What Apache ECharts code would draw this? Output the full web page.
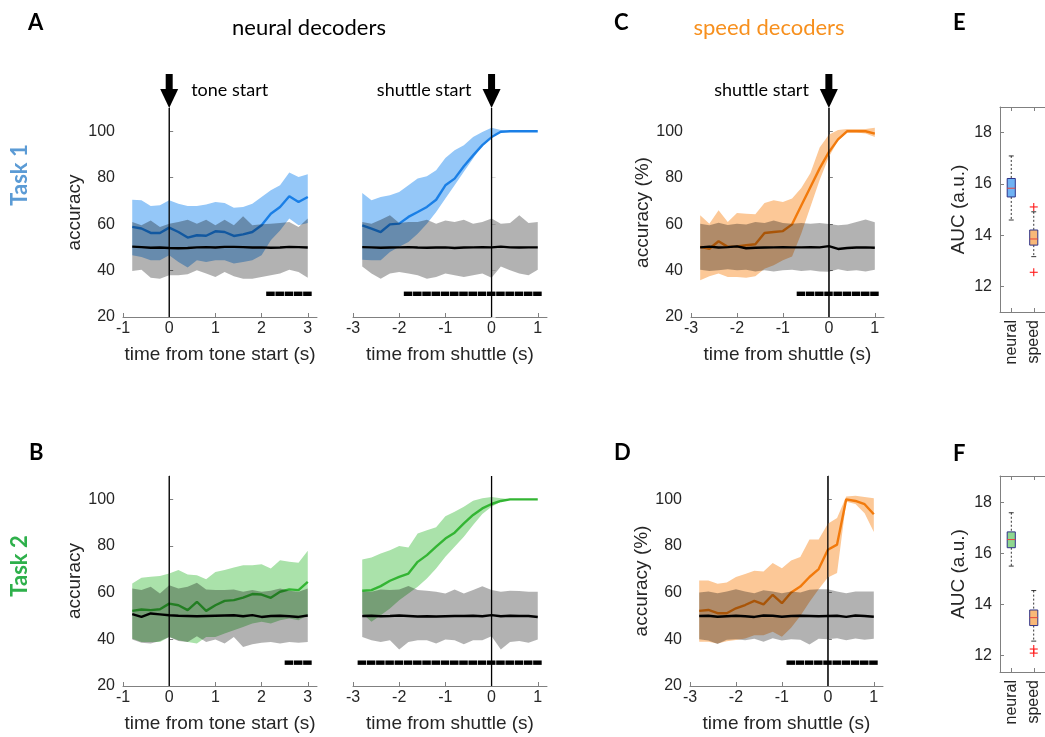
<!DOCTYPE html>
<html>
<head>
<meta charset="utf-8">
<script src="https://cdn.jsdelivr.net/npm/echarts@6/dist/echarts.min.js"></script>
<style>
  html, body { margin: 0; padding: 0; background: #ffffff; }
  #chart { width: 1045px; height: 737px; }
</style>
</head>
<body>
<div id="chart"></div>
<script>
// ---------- time bins (s) ----------
const X_TONE = [-0.8, -0.6, -0.4, -0.2, 0, 0.2, 0.4, 0.6, 0.8, 1.0, 1.2, 1.4, 1.6, 1.8, 2.0, 2.2, 2.4, 2.6, 2.8, 3.0];
const X_SHUTTLE = [-2.8, -2.6, -2.4, -2.2, -2.0, -1.8, -1.6, -1.4, -1.2, -1.0, -0.8, -0.6, -0.4, -0.2, 0, 0.2, 0.4, 0.6, 0.8, 1.0];

// ---------- Task 1, neural decoder, aligned to tone start ----------
const a1Mean = [58.8, 58.1, 56.2, 56.2, 58.5, 56.6, 54.2, 55.2, 55.0, 56.9, 56.6, 54.9, 55.6, 56.6, 59.5, 64.5, 67.4, 72.0, 69.5, 71.7];
const a1Hi   = [70.5, 70.3, 67.8, 68.1, 70.3, 68.8, 67.8, 67.8, 68.4, 69.5, 69.1, 67.0, 67.4, 68.8, 71.7, 74.6, 76.7, 82.2, 80.3, 81.5];
const a1Lo   = [46.6, 45.8, 44.4, 44.4, 46.6, 43.7, 41.3, 44.4, 43.7, 44.4, 44.4, 43.0, 43.7, 44.4, 46.6, 53.0, 57.3, 62.4, 59.5, 60.5];
const a1ChMean = [50.3, 50.1, 49.8, 49.9, 49.7, 49.6, 49.7, 50.0, 50.1, 49.9, 50.2, 50.2, 50.1, 49.9, 50.0, 49.8, 49.9, 50.2, 50.1, 49.9];
const a1ChHi   = [60.9, 59.5, 61.6, 58.8, 60.2, 60.9, 61.9, 60.2, 61.9, 59.5, 61.9, 59.5, 63.4, 59.5, 59.9, 60.2, 60.5, 60.9, 58.8, 62.4];
const a1ChLo   = [39.8, 40.4, 36.9, 36.5, 38.0, 38.0, 38.4, 40.1, 38.7, 37.2, 39.4, 37.5, 36.5, 36.5, 37.2, 38.0, 38.7, 40.4, 39.4, 36.9];
const a1Sig = [2.2, 2.4, 2.6, 2.8, 3.0];

// ---------- Task 1, neural decoder, aligned to shuttle ----------
const a2Mean = [59.5, 58.1, 56.6, 59.9, 60.2, 63.1, 65.2, 67.4, 70.5, 76.7, 79.6, 84.9, 89.6, 94.0, 97.5, 99.8, 100, 100, 100, 100];
const a2Hi   = [73.4, 70.3, 71.7, 72.4, 73.8, 76.7, 79.6, 80.6, 83.2, 88.5, 91.8, 94.0, 97.5, 99.7, 101.5, 100.5, 100, 100, 100, 100];
const a2Lo   = [44.7, 44.4, 44.4, 48.0, 50.2, 52.3, 55.9, 60.2, 65.2, 71.0, 76.7, 82.5, 88.2, 94.0, 98.3, 99.6, 100, 100, 100, 100];
const a2ChMean = [50.1, 50.0, 49.8, 49.9, 50.0, 50.1, 49.9, 49.8, 49.9, 50.0, 49.7, 49.9, 50.0, 50.1, 50.0, 50.3, 50.0, 49.9, 50.0, 50.0];
const a2ChHi   = [60.9, 60.2, 61.9, 63.8, 60.5, 60.9, 60.9, 61.9, 60.2, 61.6, 60.9, 61.9, 60.2, 60.9, 62.4, 60.2, 60.5, 63.8, 60.5, 60.9];
const a2ChLo   = [41.8, 38.7, 36.5, 38.7, 39.4, 38.7, 38.0, 36.5, 37.2, 38.7, 38.0, 37.2, 38.0, 38.7, 36.9, 41.8, 40.1, 38.7, 38.0, 40.4];
const a2Sig = [-1.8, -1.6, -1.4, -1.2, -1.0, -0.8, -0.6, -0.4, -0.2, 0, 0.2, 0.4, 0.6, 0.8, 1.0];

// ---------- Task 1, speed decoder, aligned to shuttle ----------
const cMean = [50.2, 49.4, 52.6, 50.2, 50.4, 50.9, 51.3, 56.2, 56.6, 57.0, 59.9, 68.0, 76.0, 84.0, 91.0, 96.5, 100, 100, 100, 99.0];
const cHi   = [63.8, 60.2, 66.0, 60.9, 64.8, 64.5, 64.2, 69.1, 70.3, 69.5, 71.0, 75.5, 82.0, 93.0, 98.5, 100.5, 101, 101, 101, 101.5];
const cLo   = [35.8, 37.5, 38.7, 37.2, 37.2, 36.9, 37.5, 40.8, 42.3, 44.4, 46.0, 56.0, 67.5, 79.0, 88.9, 96.0, 99.5, 99.5, 99.0, 97.5];
const cChMean = [50.0, 50.3, 49.9, 50.1, 50.4, 49.6, 49.8, 49.9, 50.0, 50.1, 50.0, 50.0, 50.1, 50.0, 50.5, 49.3, 49.7, 49.9, 50.0, 49.8];
const cChHi   = [60.2, 59.5, 60.6, 59.6, 60.2, 59.8, 60.9, 60.5, 61.6, 60.5, 60.2, 60.5, 60.2, 60.5, 60.0, 59.5, 59.8, 60.9, 62.0, 60.8];
const cChLo   = [40.4, 39.8, 40.1, 40.6, 40.1, 40.4, 39.6, 40.1, 39.6, 40.1, 40.4, 39.8, 40.1, 39.6, 39.5, 40.6, 39.8, 40.1, 39.6, 40.3];
const cSig = [-0.6, -0.4, -0.2, 0, 0.2, 0.4, 0.6, 0.8, 1.0];

// ---------- Task 2, neural decoder, aligned to tone start ----------
const b1Mean = [52.2, 52.8, 52.5, 52.9, 55.3, 54.6, 52.5, 56.1, 52.2, 54.6, 56.5, 56.8, 57.9, 59.4, 59.2, 57.8, 60.4, 61.4, 61.1, 64.6];
const b1Hi   = [63.9, 66.4, 66.8, 67.1, 68.2, 69.7, 67.8, 67.5, 65.8, 68.9, 69.7, 70.8, 71.8, 71.8, 72.2, 70.4, 73.9, 73.2, 72.8, 78.0];
const b1Lo   = [40.3, 38.9, 38.9, 38.9, 41.0, 39.6, 38.9, 38.2, 41.0, 41.0, 42.5, 43.9, 45.3, 46.8, 47.5, 46.8, 48.2, 48.9, 48.2, 50.3];
const b1ChMean = [50.8, 49.6, 51.1, 50.7, 50.3, 50.1, 50.0, 49.9, 50.0, 50.1, 50.2, 50.3, 49.9, 50.4, 49.6, 50.0, 50.1, 49.9, 49.6, 50.2];
const b1ChHi   = [61.8, 61.1, 62.5, 59.6, 63.2, 61.8, 62.5, 64.2, 61.4, 61.1, 61.1, 61.4, 60.4, 61.1, 60.4, 60.8, 61.8, 60.8, 60.4, 61.8];
const b1ChLo   = [39.9, 38.5, 38.2, 39.3, 41.0, 39.3, 38.9, 41.3, 38.9, 39.9, 38.2, 41.0, 36.7, 37.9, 38.5, 38.9, 38.2, 38.9, 38.5, 38.9];
const b1Sig = [2.6, 2.8, 3.0];

// ---------- Task 2, neural decoder, aligned to shuttle ----------
const b2Mean = [60.8, 61.1, 62.8, 65.1, 66.8, 68.2, 73.2, 76.1, 79.7, 83.2, 85.7, 89.7, 93.3, 96.1, 98.0, 99.3, 100, 100, 100, 100];
const b2Hi   = [74.2, 75.1, 76.8, 78.2, 80.0, 79.4, 85.4, 86.8, 88.0, 92.8, 94.7, 96.8, 99.4, 100.5, 101, 100.5, 100, 100, 100, 100];
const b2Lo   = [51.1, 47.5, 50.3, 53.2, 56.8, 59.6, 62.5, 66.1, 70.4, 75.4, 79.7, 84.0, 89.0, 93.7, 96.8, 99.0, 100, 100, 100, 100];
const b2ChMean = [50.0, 50.1, 49.9, 50.0, 50.2, 50.0, 49.8, 49.9, 49.8, 49.9, 50.0, 50.0, 50.1, 49.9, 50.4, 49.9, 50.1, 50.0, 50.0, 49.6];
const b2ChHi   = [60.4, 60.4, 61.4, 61.1, 61.4, 62.9, 61.1, 60.8, 60.4, 59.6, 61.4, 59.6, 61.1, 62.8, 61.1, 60.4, 60.8, 60.7, 60.4, 60.4];
const b2ChLo   = [41.0, 39.6, 38.9, 39.6, 35.6, 38.9, 39.6, 39.6, 38.2, 39.9, 39.6, 37.9, 39.6, 39.6, 41.3, 35.6, 38.9, 39.3, 38.5, 39.9];
const b2Sig = [-2.8, -2.6, -2.4, -2.2, -2.0, -1.8, -1.6, -1.4, -1.2, -1.0, -0.8, -0.6, -0.4, -0.2, 0, 0.2, 0.4, 0.6, 0.8, 1.0];

// ---------- Task 2, speed decoder, aligned to shuttle ----------
const dMean = [52.2, 52.6, 51.2, 51.2, 53.3, 54.7, 56.5, 55.0, 59.1, 55.5, 60.1, 62.6, 66.7, 70.1, 78.4, 80.6, 100, 99.3, 97.9, 93.6];
const dHi   = [65.2, 65.2, 63.8, 64.4, 66.7, 68.0, 69.4, 69.1, 72.7, 70.5, 73.8, 75.3, 82.8, 82.8, 89.5, 92.0, 101.2, 101.5, 101.0, 100.5];
const dLo   = [39.0, 39.0, 38.2, 39.2, 39.7, 40.4, 41.8, 41.8, 43.3, 41.1, 45.0, 50.0, 56.0, 61.5, 66.5, 68.4, 99.0, 98.0, 94.0, 86.0];
const dChMean = [50.0, 50.1, 49.7, 49.9, 50.1, 49.9, 49.6, 50.2, 50.1, 49.7, 50.0, 50.1, 50.0, 49.9, 50.0, 50.1, 49.6, 50.2, 50.0, 49.7];
const dChHi   = [60.1, 60.5, 59.8, 60.5, 61.5, 60.5, 59.8, 61.0, 60.5, 59.8, 60.5, 60.1, 61.2, 61.5, 61.5, 60.5, 59.8, 60.5, 60.5, 60.5];
const dChLo   = [40.0, 39.5, 38.0, 39.8, 40.0, 39.6, 40.3, 39.0, 40.5, 39.5, 40.0, 39.8, 37.8, 40.3, 40.0, 40.5, 39.6, 40.4, 39.8, 40.3];
const dSig = [-0.8, -0.6, -0.4, -0.2, 0, 0.2, 0.4, 0.6, 0.8, 1.0];

// ---------- AUC box plots: [min, Q1, median, Q3, max] ----------
const BOX_LABELS = ['neural', 'speed'];
const eBox = [[14.59, 15.49, 15.83, 16.21, 17.09], [13.16, 13.61, 13.85, 14.20, 14.91]];
const eOutliers = [[2, 15.10], [2, 12.55]];
const fBox = [[15.51, 16.23, 16.55, 16.85, 17.60], [12.57, 13.18, 13.49, 13.79, 14.55]];
const fOutliers = [[2, 12.26], [2, 12.10]];

// ---------- tick labels ----------
const Y_TICKS = [20, 40, 60, 80, 100];
const X_TICKS_TONE = [-1, 0, 1, 2, 3];
const X_TICKS_SHUTTLE = [-3, -2, -1, 0, 1];
const AUC_TICKS = [12, 14, 16, 18];

// ---------- styles ----------
const AX = '#808080';
const TXT = '#262626';
const F_AX = "'Liberation Sans', Arial, Helvetica, sans-serif";
const F_TXT = "Lato, 'Open Sans', sans-serif";
const BLUE = { line: '#1a7fe6', band: '#94c7f8', box: '#6fb2f3' };
const ORANGE = { line: '#f27a0c', band: '#fcc897', box: '#f9b878' };
const GREEN = { line: '#33b533', band: '#aae2aa', box: '#8fd78f' };
const SHADE = 'rgba(0,0,0,0.30)';

const chart = echarts.init(document.getElementById('chart'), null, { renderer: 'canvas' });

const grids = [
  { left: 123, top: 108, width: 194, height: 209 },  // A, tone
  { left: 353, top: 108, width: 194, height: 209 },  // A, shuttle
  { left: 691, top: 108, width: 193, height: 209 },  // C
  { left: 1000, top: 107, width: 48, height: 205 },  // E
  { left: 123, top: 476, width: 194, height: 210 },  // B, tone
  { left: 353, top: 476, width: 194, height: 210 },  // B, shuttle
  { left: 690, top: 476, width: 193, height: 210 },  // D
  { left: 1000, top: 476, width: 48, height: 196 }   // F
];

function timeX(g, min, max, ticks, name) {
  return {
    gridIndex: g, type: 'value', min: min, max: max,
    name: name, nameLocation: 'middle', nameGap: 28,
    nameTextStyle: { color: TXT, fontSize: 19, fontFamily: F_AX },
    axisLine: { show: true, lineStyle: { color: AX, width: 1 } },
    axisTick: { show: true, inside: true, length: 4, customValues: ticks, lineStyle: { color: AX } },
    axisLabel: { show: true, customValues: ticks, color: TXT, fontSize: 16, fontFamily: F_AX, margin: 4 },
    splitLine: { show: false }
  };
}

function accY(g, name, visible, faintTicks) {
  return {
    gridIndex: g, type: 'value', min: 20, max: 110,
    name: visible ? name : '', nameLocation: 'middle', nameGap: 39,
    nameTextStyle: { color: TXT, fontSize: 19, fontFamily: F_AX },
    axisLine: { show: visible, lineStyle: { color: AX, width: 1 } },
    axisTick: { show: visible || faintTicks, inside: true, length: 4, customValues: Y_TICKS,
                lineStyle: { color: visible ? AX : '#d9d9d9' } },
    axisLabel: { show: visible, customValues: Y_TICKS, color: TXT, fontSize: 16, fontFamily: F_AX, margin: 8 },
    splitLine: { show: false }
  };
}

function aucY(g, min, max) {
  return {
    gridIndex: g, type: 'value', min: min, max: max,
    name: 'AUC (a.u.)', nameLocation: 'middle', nameGap: 32,
    nameTextStyle: { color: TXT, fontSize: 19, fontFamily: F_AX },
    axisLine: { show: true, lineStyle: { color: AX, width: 1 } },
    axisTick: { show: true, inside: true, length: 4, customValues: AUC_TICKS, lineStyle: { color: AX } },
    axisLabel: { show: true, customValues: AUC_TICKS, color: TXT, fontSize: 16, fontFamily: F_AX, margin: 8 },
    splitLine: { show: false }
  };
}

function boxX(g, top) {
  return {
    gridIndex: g, type: 'value', min: 0.5, max: 2.5, position: top ? 'top' : 'bottom',
    axisLine: { show: true, onZero: false, lineStyle: { color: AX, width: 1 } },
    axisTick: { show: true, inside: true, length: 4, customValues: [1, 2], lineStyle: { color: AX } },
    axisLabel: {
      show: !top, customValues: [1, 2], rotate: 90, color: TXT, fontSize: 16, fontFamily: F_AX, margin: 8,
      formatter: function (v) { return BOX_LABELS[Math.round(v) - 1] || ''; }
    },
    splitLine: { show: false }
  };
}

// Filled band between lower and upper bounds, drawn through the axis scale
function band(g, xs, lo, hi, fill, z) {
  return {
    type: 'custom', xAxisIndex: g, yAxisIndex: g, z: z, silent: true, clip: true,
    data: [[xs[0], lo[0]]],
    renderItem: function (params, api) {
      const up = xs.map(function (x, i) { return api.coord([x, hi[i]]); });
      const dn = xs.map(function (x, i) { return api.coord([x, lo[i]]); }).reverse();
      return { type: 'polygon', shape: { points: up.concat(dn) }, style: { fill: fill } };
    }
  };
}

function meanLine(g, xs, ys, color, z) {
  return {
    type: 'line', xAxisIndex: g, yAxisIndex: g, z: z, silent: true,
    data: xs.map(function (x, i) { return [x, ys[i]]; }),
    symbol: 'none', lineStyle: { color: color, width: 2.4 }
  };
}

// Significance marker: one short segment per significant bin, at 30 % accuracy
function sigBar(g, bins) {
  return {
    type: 'custom', xAxisIndex: g, yAxisIndex: g, z: 6, silent: true,
    data: bins.map(function (b) { return [b, 30]; }),
    renderItem: function (params, api) {
      const b = api.value(0);
      const a = api.coord([b - 0.1, api.value(1)]);
      const c = api.coord([b + 0.1, api.value(1)]);
      return { type: 'rect', shape: { x: a[0], y: a[1] - 2.2, width: c[0] - a[0] - 0.7, height: 4.4 }, style: { fill: '#000' } };
    }
  };
}

function zeroLine(g) {
  return {
    type: 'line', xAxisIndex: g, yAxisIndex: g, z: 7, silent: true,
    data: [[0, 20], [0, 110]], symbol: 'none', lineStyle: { color: '#000', width: 1.3 }
  };
}

// Event arrow above the plot, pointing at t = 0, with its caption
function eventArrow(g, caption, side) {
  return {
    type: 'custom', xAxisIndex: g, yAxisIndex: g, z: 8, silent: true, clip: false,
    data: [[0, 110]],
    renderItem: function (params, api) {
      const p = api.coord([api.value(0), api.value(1)]);
      return {
        type: 'group', children: [
          { type: 'polygon', shape: { points: [[p[0] - 9, p[1] - 19], [p[0] + 9, p[1] - 19], [p[0], p[1]]] }, style: { fill: '#000' } },
          { type: 'rect', shape: { x: p[0] - 3.5, y: p[1] - 34, width: 7, height: 16 }, style: { fill: '#000' } },
          { type: 'text', x: side === 'right' ? p[0] + 22 : p[0] - 20, y: p[1] - 18,
            style: { text: caption, fill: '#000', font: '18px ' + F_TXT,
                     align: side === 'right' ? 'left' : 'right', verticalAlign: 'middle' } }
        ]
      };
    }
  };
}

function boxSeries(g, rows, fills) {
  return {
    type: 'custom', xAxisIndex: g, yAxisIndex: g, z: 5, silent: true,
    data: rows.map(function (r, i) { return [i + 1].concat(r); }),
    encode: { x: 0, y: [1, 2, 3, 4, 5] },
    renderItem: function (params, api) {
      const x = api.value(0);
      const lo = api.coord([x, api.value(1)]);
      const q1 = api.coord([x, api.value(2)]);
      const md = api.coord([x, api.value(3)]);
      const q3 = api.coord([x, api.value(4)]);
      const hi = api.coord([x, api.value(5)]);
      const hw = api.size([0.36, 0])[0] / 2;
      const cw = api.size([0.22, 0])[0] / 2;
      const cx = lo[0];
      const wStyle = { stroke: '#000', lineWidth: 0.8, lineDash: [2, 2] };
      const cStyle = { stroke: '#000', lineWidth: 0.8 };
      return {
        type: 'group', children: [
          { type: 'line', shape: { x1: cx, y1: hi[1], x2: cx, y2: q3[1] }, style: wStyle },
          { type: 'line', shape: { x1: cx, y1: q1[1], x2: cx, y2: lo[1] }, style: wStyle },
          { type: 'line', shape: { x1: cx - cw, y1: hi[1], x2: cx + cw, y2: hi[1] }, style: cStyle },
          { type: 'line', shape: { x1: cx - cw, y1: lo[1], x2: cx + cw, y2: lo[1] }, style: cStyle },
          { type: 'rect', shape: { x: cx - hw, y: q3[1], width: 2 * hw, height: q1[1] - q3[1] },
            style: { fill: fills[params.dataIndex], stroke: '#2e3288', lineWidth: 1 } },
          { type: 'line', shape: { x1: cx - hw, y1: md[1], x2: cx + hw, y2: md[1] }, style: { stroke: '#e8453c', lineWidth: 1 } }
        ]
      };
    }
  };
}

function outlierSeries(g, pts) {
  return {
    type: 'custom', xAxisIndex: g, yAxisIndex: g, z: 6, silent: true,
    data: pts,
    renderItem: function (params, api) {
      const p = api.coord([api.value(0), api.value(1)]);
      const s = { stroke: '#ff1a1a', lineWidth: 1.1 };
      return {
        type: 'group', children: [
          { type: 'line', shape: { x1: p[0] - 4, y1: p[1], x2: p[0] + 4, y2: p[1] }, style: s },
          { type: 'line', shape: { x1: p[0], y1: p[1] - 4, x2: p[0], y2: p[1] + 4 }, style: s }
        ]
      };
    }
  };
}

function panel(g, xs, mean, lo, hi, chMean, chLo, chHi, sig, col) {
  return [
    band(g, xs, lo, hi, col.band, 1),
    meanLine(g, xs, mean, col.line, 2),
    band(g, xs, chLo, chHi, SHADE, 3),
    meanLine(g, xs, chMean, '#000', 4),
    sigBar(g, sig),
    zeroLine(g)
  ];
}

const series = [].concat(
  panel(0, X_TONE, a1Mean, a1Lo, a1Hi, a1ChMean, a1ChLo, a1ChHi, a1Sig, BLUE),
  panel(1, X_SHUTTLE, a2Mean, a2Lo, a2Hi, a2ChMean, a2ChLo, a2ChHi, a2Sig, BLUE),
  panel(2, X_SHUTTLE, cMean, cLo, cHi, cChMean, cChLo, cChHi, cSig, ORANGE),
  panel(4, X_TONE, b1Mean, b1Lo, b1Hi, b1ChMean, b1ChLo, b1ChHi, b1Sig, GREEN),
  panel(5, X_SHUTTLE, b2Mean, b2Lo, b2Hi, b2ChMean, b2ChLo, b2ChHi, b2Sig, GREEN),
  panel(6, X_SHUTTLE, dMean, dLo, dHi, dChMean, dChLo, dChHi, dSig, ORANGE),
  [
    eventArrow(0, 'tone start', 'right'),
    eventArrow(1, 'shuttle start', 'left'),
    eventArrow(2, 'shuttle start', 'left'),
    boxSeries(3, eBox, [BLUE.box, ORANGE.box]),
    outlierSeries(3, eOutliers),
    boxSeries(7, fBox, [GREEN.box, ORANGE.box]),
    outlierSeries(7, fOutliers)
  ]
);

function label(text, x, y, opts) {
  return {
    type: 'text', x: x, y: y,
    style: Object.assign({ text: text, fill: '#000', font: '22px ' + F_TXT, align: 'left', verticalAlign: 'middle' }, opts || {})
  };
}

const option = {
  animation: false,
  backgroundColor: '#ffffff',
  grid: grids,
  xAxis: [
    timeX(0, -1, 3.2, X_TICKS_TONE, 'time from tone start (s)'),
    timeX(1, -3, 1.2, X_TICKS_SHUTTLE, 'time from shuttle (s)'),
    timeX(2, -3, 1.2, X_TICKS_SHUTTLE, 'time from shuttle (s)'),
    boxX(3, false),
    timeX(4, -1, 3.2, X_TICKS_TONE, 'time from tone start (s)'),
    timeX(5, -3, 1.2, X_TICKS_SHUTTLE, 'time from shuttle (s)'),
    timeX(6, -3, 1.2, X_TICKS_SHUTTLE, 'time from shuttle (s)'),
    boxX(7, false),
    boxX(3, true),
    boxX(7, true)
  ],
  yAxis: [
    accY(0, 'accuracy', true, false),
    accY(1, '', false, true),
    accY(2, 'accuracy (%)', true, false),
    aucY(3, 11, 19),
    accY(4, 'accuracy', true, false),
    accY(5, '', false, false),
    accY(6, 'accuracy (%)', true, false),
    aucY(7, 11.36, 19.04)
  ],
  series: series,
  graphic: [
    label('A', 28, 23, { font: 'bold 22px ' + F_TXT }),
    label('neural decoders', 309, 28, { align: 'center' }),
    label('C', 614, 23, { font: 'bold 22px ' + F_TXT }),
    label('speed decoders', 769, 28, { align: 'center', fill: '#f7901e' }),
    label('E', 953, 23, { font: 'bold 22px ' + F_TXT }),
    label('B', 29, 453, { font: 'bold 22px ' + F_TXT }),
    label('D', 614, 453, { font: 'bold 22px ' + F_TXT }),
    label('F', 953, 454, { font: 'bold 22px ' + F_TXT }),
    { type: 'text', x: 20, y: 175, rotation: Math.PI / 2,
      style: { text: 'Task 1', fill: '#5b9bd5', font: 'bold 22px ' + F_TXT, align: 'center', verticalAlign: 'middle' } },
    { type: 'text', x: 20, y: 566, rotation: Math.PI / 2,
      style: { text: 'Task 2', fill: '#2eb04b', font: 'bold 22px ' + F_TXT, align: 'center', verticalAlign: 'middle' } }
  ]
};

chart.setOption(option);
</script>
</body>
</html>
